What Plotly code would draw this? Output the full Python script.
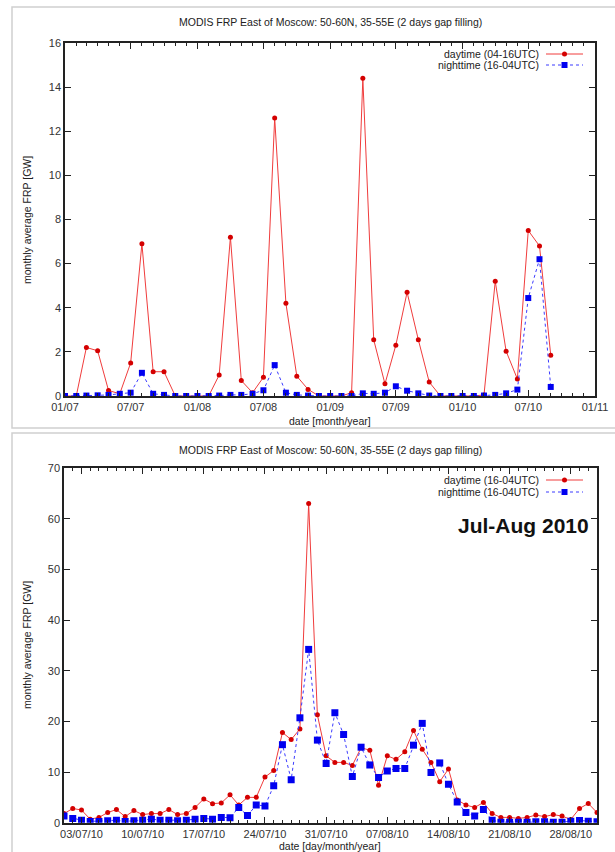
import pandas as pd
import plotly.graph_objects as go

W, H = 615, 852

# ---------------- data: monthly (top panel) ----------------
months = pd.date_range("2007-01-01", "2010-09-01", freq="MS").strftime("%Y-%m-%d").tolist()
day_monthly = [0, 0, 2.2, 2.05, 0.25, 0.1, 1.5, 6.9, 1.1, 1.1, 0, 0,
               0, 0, 0.95, 7.2, 0.7, 0.15, 0.85, 12.6, 4.2, 0.9, 0.3, 0,
               0, 0, 0.15, 14.4, 2.55, 0.55, 2.3, 4.7, 2.55, 0.63, 0, 0,
               0, 0, 0.05, 5.2, 2.03, 0.77, 7.5, 6.8, 1.85]
night_monthly = [0, 0, 0.02, 0.03, 0.05, 0.1, 0.15, 1.05, 0.1, 0.05, 0, 0,
                 0, 0, 0.02, 0.05, 0.05, 0.1, 0.26, 1.4, 0.15, 0.05, 0.02, 0,
                 0, 0, 0, 0.12, 0.1, 0.15, 0.44, 0.24, 0.12, 0.02, 0, 0,
                 0, 0, 0.02, 0.05, 0.12, 0.29, 4.44, 6.2, 0.41]

# ---------------- data: daily Jul-Aug 2010 (bottom panel) ----------------
days = pd.date_range("2010-07-01", "2010-08-31", freq="D").strftime("%Y-%m-%d").tolist()
day_daily = [1.8, 2.8, 2.5, 0.7, 1.05, 2.0, 2.6, 1.2, 2.4, 1.6,
             1.8, 1.8, 2.6, 1.6, 1.8, 3.0, 4.7, 3.75, 3.9, 5.5,
             3.5, 5.0, 5.0, 9.0, 10.3, 17.8, 16.4, 18.5, 63.0, 21.3,
             13.2, 11.9, 11.9, 11.3, 14.8, 14.3, 7.4, 13.2, 12.5, 14.0,
             18.2, 14.5, 11.9, 8.1, 10.6, 4.5, 3.5, 3.0, 4.0, 1.8,
             1.05, 1.05, 0.85, 1.05, 1.5, 1.2, 1.6, 1.3, 0.65, 2.8,
             3.8, 2.0]
night_daily = [1.3, 0.85, 0.5, 0.26, 0.26, 0.4, 0.5, 0.26, 0.4, 0.5,
               0.7, 0.5, 0.5, 0.4, 0.5, 0.7, 0.85, 0.7, 1.05, 1.0,
               3.0, 1.4, 3.5, 3.3, 7.3, 15.4, 8.5, 20.7, 34.2, 16.3,
               11.7, 21.7, 17.4, 9.1, 14.9, 11.4, 8.9, 10.2, 10.7, 10.7,
               15.3, 19.6, 9.9, 11.8, 7.6, 4.1, 2.0, 1.3, 2.6, 0.5,
               0.1, 0.1, 0.1, 0.1, 0.2, 0.2, 0.1, 0.1, 0.3, 0.45,
               0.3, 0.2]

TITLE = "MODIS FRP East of Moscow: 50-60N, 35-55E (2 days gap filling)"
YLABEL = "monthly average FRP [GW]"

RED_LINE = "#f03c3c"
RED_MK = "#d40000"
BLUE_LINE = "#3b3bff"
BLUE_MK = "#0000f0"

def px(x):
    return x / W

def py(y):
    return 1 - y / H

fig = go.Figure()

fig.add_trace(go.Scatter(x=months, y=day_monthly, mode="lines+markers",
                         line=dict(color=RED_LINE, width=1),
                         marker=dict(color=RED_MK, size=5, symbol="circle"),
                         xaxis="x", yaxis="y", showlegend=False))
fig.add_trace(go.Scatter(x=months, y=night_monthly, mode="lines+markers",
                         line=dict(color=BLUE_LINE, width=1, dash="dot"),
                         marker=dict(color=BLUE_MK, size=6, symbol="square"),
                         xaxis="x", yaxis="y", showlegend=False))
fig.add_trace(go.Scatter(x=days, y=day_daily, mode="lines+markers",
                         line=dict(color=RED_LINE, width=1),
                         marker=dict(color=RED_MK, size=5, symbol="circle"),
                         xaxis="x2", yaxis="y2", showlegend=False))
fig.add_trace(go.Scatter(x=days, y=night_daily, mode="lines+markers",
                         line=dict(color=BLUE_LINE, width=1, dash="dot"),
                         marker=dict(color=BLUE_MK, size=7, symbol="square"),
                         xaxis="x2", yaxis="y2", showlegend=False))

tickfont = dict(family="Liberation Sans, Arial, sans-serif", size=11, color="#333333")
common = dict(showline=True, linecolor="#222222", linewidth=1.5, mirror="ticks",
              ticks="inside", tickcolor="#222222", ticklen=6, tickwidth=1,
              showgrid=False, zeroline=False, tickfont=tickfont, automargin=False)

top_y = (py(396), py(43))
bot_y = (py(822.7), py(468))

fig.update_layout(
    width=W, height=H, margin=dict(l=0, r=0, t=0, b=0, autoexpand=False),
    paper_bgcolor="white", plot_bgcolor="white",
    xaxis=dict(domain=[px(65), px(595)], anchor="y", type="date",
               range=["2007-01-01", "2011-01-01"], tick0="2007-01-01", dtick="M6",
               tickformat="%m/%y",
               minor=dict(dtick="M1", ticks="inside", ticklen=3, tickcolor="#222222", showgrid=False),
               **common),
    yaxis=dict(domain=list(top_y), anchor="x", range=[0, 16], dtick=2, **common),
    xaxis2=dict(domain=[px(64), px(597)], anchor="y2", type="date",
                range=["2010-07-01", "2010-08-31"], tick0="2010-07-03", dtick=7 * 86400000,
                tickformat="%d/%m/%y",
                minor=dict(dtick=86400000, ticks="inside", ticklen=3, tickcolor="#222222", showgrid=False),
                **common),
    yaxis2=dict(domain=list(bot_y), anchor="x2", range=[0, 70], dtick=10, **common),
)

lab_font = dict(family="Liberation Sans, Arial, sans-serif", size=10.5, color="#222222")
ann = []
# titles
ann.append(dict(x=px(330), y=py(22), text=TITLE, showarrow=False, xref="paper", yref="paper",
                xanchor="center", yanchor="middle", font=lab_font))
ann.append(dict(x=px(330), y=py(450), text=TITLE, showarrow=False, xref="paper", yref="paper",
                xanchor="center", yanchor="middle", font=lab_font))
# y labels
ann.append(dict(x=px(27), y=py(220), text=YLABEL, textangle=-90, showarrow=False,
                xref="paper", yref="paper", xanchor="center", yanchor="middle", font=lab_font))
ann.append(dict(x=px(27), y=py(645), text=YLABEL, textangle=-90, showarrow=False,
                xref="paper", yref="paper", xanchor="center", yanchor="middle", font=lab_font))
# x labels
ann.append(dict(x=px(330), y=py(421), text="date [month/year]", showarrow=False,
                xref="paper", yref="paper", xanchor="center", yanchor="middle", font=lab_font))
ann.append(dict(x=px(330), y=py(838), text="date [day/month/year]", showarrow=False,
                xref="paper", yref="paper", xanchor="center", yanchor="top", font=lab_font))
# big label
ann.append(dict(x=px(591), y=py(525), text="<b>Jul-Aug 2010</b>", showarrow=False,
                xref="paper", yref="paper", xanchor="right", yanchor="middle",
                font=dict(family="Liberation Sans, Arial, sans-serif", size=21, color="#111111")))

shapes = []
# panel frames
shapes.append(dict(type="rect", xref="paper", yref="paper", x0=px(12), x1=px(640), y0=py(7), y1=py(428),
                   line=dict(color="#d0d0d0", width=1.5)))
shapes.append(dict(type="rect", xref="paper", yref="paper", x0=px(12), x1=px(640), y0=py(433), y1=py(880),
                   line=dict(color="#d0d0d0", width=1.5)))

def legend(rows_y, labels):
    for (yy, lab, kind) in zip(rows_y, labels, ["day", "night"]):
        ann.append(dict(x=px(541), y=py(yy), text=lab, showarrow=False, xref="paper", yref="paper",
                        xanchor="right", yanchor="middle", font=lab_font))
        if kind == "day":
            shapes.append(dict(type="line", xref="paper", yref="paper", x0=px(546), x1=px(583),
                               y0=py(yy), y1=py(yy), line=dict(color=RED_LINE, width=1)))
            shapes.append(dict(type="circle", xref="paper", yref="paper", x0=px(562), x1=px(567),
                               y0=py(yy - 2.5), y1=py(yy + 2.5), fillcolor=RED_MK, line=dict(width=0)))
        else:
            shapes.append(dict(type="line", xref="paper", yref="paper", x0=px(546), x1=px(583),
                               y0=py(yy), y1=py(yy), line=dict(color=BLUE_LINE, width=1, dash="dot")))
            shapes.append(dict(type="rect", xref="paper", yref="paper", x0=px(561.5), x1=px(567.5),
                               y0=py(yy - 3), y1=py(yy + 3), fillcolor=BLUE_MK, line=dict(width=0)))

legend([54, 65], ["daytime (04-16UTC)", "nighttime (16-04UTC)"])
legend([480, 492], ["daytime (16-04UTC)", "nighttime (16-04UTC)"])

fig.update_layout(annotations=ann, shapes=shapes)
fig.write_html("out.html", config={"displayModeBar": False},
               post_script="document.body.style.margin='0';document.body.style.overflow='hidden';")
